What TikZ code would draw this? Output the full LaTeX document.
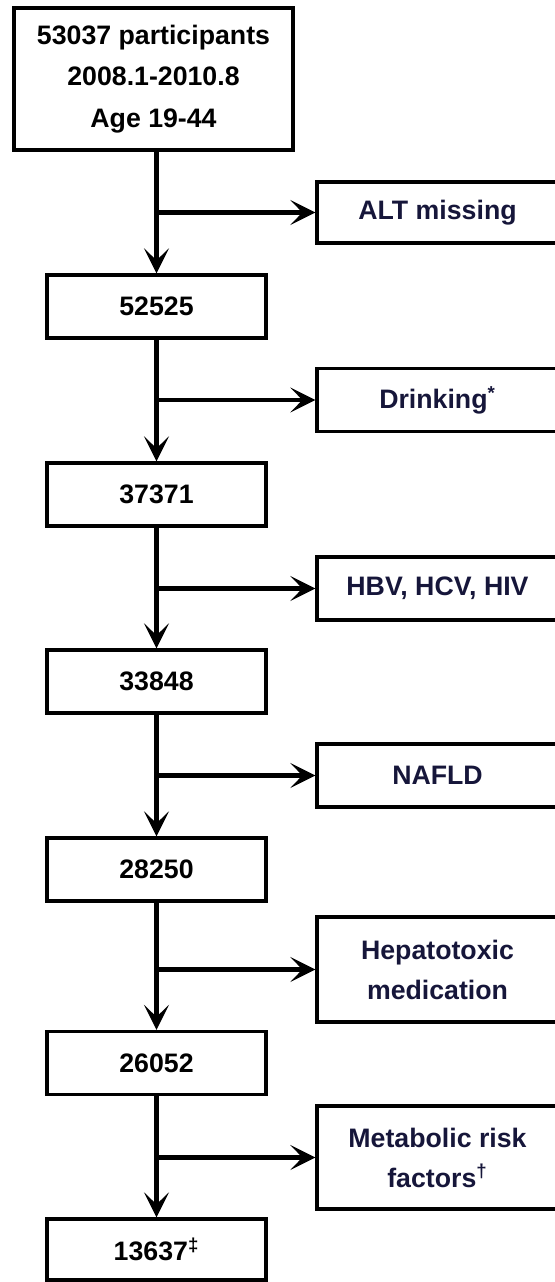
\documentclass[tikz,border=0pt]{standalone}
\usepackage{fontspec}
\setmainfont{Liberation Sans}
\usepackage{tikz}
\usetikzlibrary{arrows.meta,positioning}

\definecolor{navytext}{RGB}{22,22,58}

\tikzset{
  stage/.style={draw, line width=1.9pt, minimum width=4.38cm, minimum height=1.26cm,
    align=center, font=\fontsize{15.2}{23.7}\selectfont\bfseries},
  excl/.style={draw, line width=1.9pt, minimum width=4.82cm, minimum height=1.26cm,
    align=center, text=navytext, font=\fontsize{15.2}{22.8}\selectfont\bfseries},
  flow/.style={line width=2.6pt, -{Stealth[length=0.5cm, width=0.5cm, inset=0.24cm]}}
}

\begin{document}
\begin{tikzpicture}

\useasboundingbox (0,0) rectangle (11.08,-25.64);

\node[stage, minimum width=5.58cm, minimum height=2.84cm] at (3.07,-1.58) (b0) {53037 participants\\2008.1-2010.8\\Age 19-44};
\node[stage] at (3.13,-6.13) (b1) {52525};
\node[stage] at (3.13,-9.89) (b2) {37371};
\node[stage] at (3.13,-13.63) (b3) {33848};
\node[stage] at (3.13,-17.39) (b4) {28250};
\node[stage] at (3.13,-21.26) (b5) {26052};
\node[stage, minimum height=1.22cm] at (3.13,-24.99) (b6) {13637\textsuperscript{‡}};

\node[excl, minimum height=1.22cm] at (8.75,-4.25) (r1) {ALT missing};
\node[excl] at (8.75,-8.0) (r2) {Drinking\textsuperscript{*}};
\node[excl] at (8.75,-11.77) (r3) {HBV, HCV, HIV};
\node[excl] at (8.75,-15.51) (r4) {NAFLD};
\node[excl, minimum height=2.1cm] at (8.75,-19.39) (r5) {Hepatotoxic\\medication};
\node[excl, minimum height=2.06cm] at (8.75,-23.15) (r6) {Metabolic risk\\factors\textsuperscript{†}};

\draw[flow] (b0.south -| b1.north) -- (b1.north);
\draw[flow] (b1) -- (b2);
\draw[flow] (b2) -- (b3);
\draw[flow] (b3) -- (b4);
\draw[flow] (b4) -- (b5);
\draw[flow] (b5) -- (b6);

\draw[flow] (r1.west -| b1.north) -- (r1.west);
\draw[flow] (r2.west -| b1.north) -- (r2.west);
\draw[flow] (r3.west -| b1.north) -- (r3.west);
\draw[flow] (r4.west -| b1.north) -- (r4.west);
\draw[flow] (r5.west -| b1.north) -- (r5.west);
\draw[flow] (r6.west -| b1.north) -- (r6.west);

\end{tikzpicture}
\end{document}
